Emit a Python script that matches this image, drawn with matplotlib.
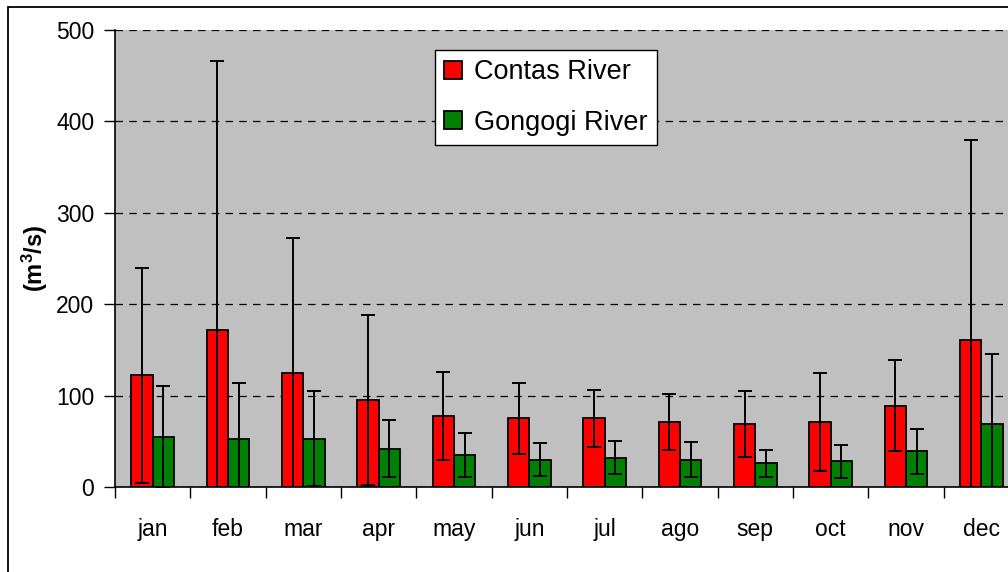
import matplotlib
matplotlib.use('Agg')
import matplotlib.pyplot as plt
import numpy as np
from matplotlib.patches import Rectangle

plt.rcParams['font.family'] = ['Liberation Sans', 'DejaVu Sans']
plt.rcParams['mathtext.fontset'] = 'custom'
plt.rcParams['mathtext.bf'] = 'Liberation Sans:bold'
plt.rcParams['mathtext.rm'] = 'Liberation Sans:bold'

# monthly mean discharge and standard deviation (m3/s)
months = ['jan', 'feb', 'mar', 'apr', 'may', 'jun',
          'jul', 'ago', 'sep', 'oct', 'nov', 'dec']
contas_mean = [122, 172, 125, 95, 78, 75, 75, 71, 69, 71, 89, 161]
contas_std = [118, 294, 147, 93, 48, 39, 31, 31, 36, 54, 50, 219]
gongogi_mean = [55, 53, 53, 42, 35, 30, 32, 30, 26, 28, 39, 69]
gongogi_std = [55, 61, 52, 31, 24, 18, 18, 19, 15, 18, 25, 77]

c_contas = '#FF0000'
c_gongogi = '#008000'

fig = plt.figure(figsize=(10.08, 5.72), dpi=100)
ax = fig.add_axes([115 / 1008, 85 / 572, 904 / 1008, 457 / 572])
ax.set_facecolor('#C0C0C0')

x = np.arange(len(months)) + 0.5
w = 0.285
err_kw = dict(ecolor='black', elinewidth=1.4, capsize=5, capthick=1.4)
ax.bar(x - w / 2, contas_mean, w, color=c_contas, edgecolor='black', lw=1.3,
       yerr=contas_std, error_kw=err_kw, label='Contas River', zorder=3)
ax.bar(x + w / 2, gongogi_mean, w, color=c_gongogi, edgecolor='black', lw=1.3,
       yerr=gongogi_std, error_kw=err_kw, label='Gongogi River', zorder=3)

ax.set_xlim(0, 12)
ax.set_ylim(0, 500)
ax.set_yticks([0, 100, 200, 300, 400, 500])
ax.set_xticks(np.arange(0, 13))
ax.set_xticklabels([])
ax.set_xticks(x, minor=True)
ax.set_xticklabels(months, minor=True)
ax.tick_params(axis='x', which='minor', length=0, pad=22, labelsize=16.5)
ax.tick_params(axis='x', which='major', length=8, width=1, direction='out')
ax.tick_params(axis='y', length=8, width=1, pad=7, labelsize=16.5)

ax.grid(axis='y', color='black', linestyle=(0, (6, 5)), lw=0.9, zorder=1)
ax.set_axisbelow(True)
for s in ['top', 'right']:
    ax.spines[s].set_visible(False)
for s in ['left', 'bottom']:
    ax.spines[s].set_linewidth(1.2)
    ax.spines[s].set_zorder(4)

ax.set_ylabel(r'$\mathbf{(m^3/s)}$', fontsize=17, labelpad=4)

leg = ax.legend(loc='upper left', bbox_to_anchor=(320 / 904, 1 - 20 / 457),
                borderaxespad=0, fontsize=19.5, frameon=True, fancybox=False,
                framealpha=1, edgecolor='black', handlelength=0.65,
                handleheight=0.65, handletextpad=0.45, labelspacing=0.9,
                borderpad=0.35)
leg.get_frame().set_linewidth(1.0)

# outer chart frame, cut off at the right and bottom
fig.patches.append(Rectangle((8 / 1008, -0.2), 1.2, 1.2 - 7 / 572,
                             transform=fig.transFigure, fill=False,
                             edgecolor='black', lw=1.3))

plt.savefig('out.png', dpi=100)
